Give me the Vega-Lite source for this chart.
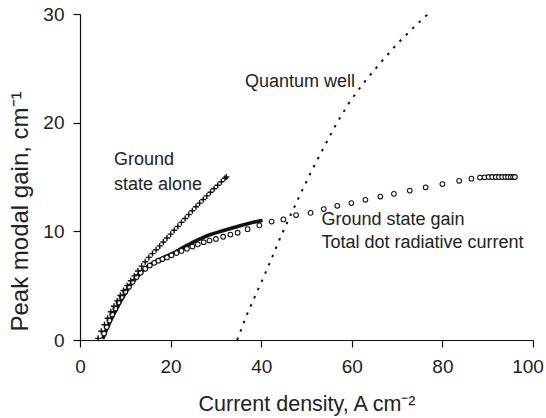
{
  "$schema": "https://vega.github.io/schema/vega-lite/v6.json",
  "width": 453,
  "height": 326,
  "autosize": {"type": "none"},
  "padding": {"left": 80, "top": 14, "right": 13, "bottom": 78},
  "background": "white",
  "config": {
    "view": {"stroke": null},
    "font": "Liberation Sans",
    "axis": {
      "grid": false,
      "labelFlush": false,
      "labelOverlap": false,
      "domainColor": "#111",
      "tickColor": "#111",
      "domainWidth": 1.2,
      "tickWidth": 1.2,
      "tickSize": 7,
      "labelFont": "Liberation Sans",
      "labelFontSize": 19,
      "labelColor": "#222",
      "titleFont": "Liberation Sans",
      "titleFontSize": 21.5,
      "titleFontWeight": "normal",
      "titleColor": "#222"
    }
  },
  "datasets": {
    "qw": [
      {"j": 34.7, "g": 0}, {"j": 36.6, "g": 2.1}, {"j": 38.6, "g": 4.0}, {"j": 40.6, "g": 5.85},
      {"j": 42.5, "g": 7.7}, {"j": 44.4, "g": 9.6}, {"j": 46.5, "g": 11.5}, {"j": 48.5, "g": 13.3},
      {"j": 50.7, "g": 15.2}, {"j": 52.9, "g": 17.0}, {"j": 56.6, "g": 19.9}, {"j": 59.5, "g": 21.9},
      {"j": 62.5, "g": 23.6}, {"j": 66.5, "g": 25.6}, {"j": 69.9, "g": 27.2}, {"j": 73.5, "g": 28.7},
      {"j": 76.8, "g": 30.0}
    ],
    "total": [
      {"j": 5.0, "g": 0.1}, {"j": 6, "g": 1.1}, {"j": 7, "g": 2.0}, {"j": 8, "g": 2.8}, {"j": 9, "g": 3.6},
      {"j": 10, "g": 4.3}, {"j": 11, "g": 4.95}, {"j": 12, "g": 5.5}, {"j": 13, "g": 6.0}, {"j": 14, "g": 6.45},
      {"j": 15, "g": 6.8}, {"j": 16, "g": 7.05}, {"j": 17, "g": 7.3}, {"j": 18, "g": 7.5}, {"j": 19, "g": 7.7},
      {"j": 20.4, "g": 7.95}, {"j": 22.5, "g": 8.45}, {"j": 24.5, "g": 8.9}, {"j": 26.5, "g": 9.3},
      {"j": 28.5, "g": 9.66}, {"j": 31.5, "g": 10.05}, {"j": 34.4, "g": 10.4}, {"j": 37.0, "g": 10.7},
      {"j": 39.6, "g": 10.95}, {"j": 40.3, "g": 11.0}
    ],
    "circles": [
      {"j": 5.3, "g": 0.6}, {"j": 5.9, "g": 1.2}, {"j": 6.5, "g": 1.8}, {"j": 7.1, "g": 2.35}, {"j": 7.8, "g": 2.9},
      {"j": 8.5, "g": 3.45}, {"j": 9.2, "g": 3.95}, {"j": 10.0, "g": 4.45}, {"j": 10.8, "g": 4.9}, {"j": 11.6, "g": 5.35},
      {"j": 12.5, "g": 5.8}, {"j": 13.4, "g": 6.2}, {"j": 14.4, "g": 6.55}, {"j": 15.4, "g": 6.85}, {"j": 16.4, "g": 7.1},
      {"j": 17.3, "g": 7.3}, {"j": 18.2, "g": 7.45}, {"j": 19.2, "g": 7.6}, {"j": 20.2, "g": 7.8}, {"j": 21.3, "g": 8.0},
      {"j": 22.4, "g": 8.2}, {"j": 23.6, "g": 8.4}, {"j": 24.8, "g": 8.6}, {"j": 26.0, "g": 8.8}, {"j": 27.3, "g": 9.0},
      {"j": 28.6, "g": 9.15}, {"j": 30.0, "g": 9.3}, {"j": 31.6, "g": 9.5}, {"j": 33.2, "g": 9.7}, {"j": 34.8, "g": 9.87},
      {"j": 37.0, "g": 10.2}, {"j": 39.6, "g": 10.55}, {"j": 42.3, "g": 10.9}, {"j": 44.9, "g": 11.1}, {"j": 47.7, "g": 11.5},
      {"j": 50.9, "g": 11.7}, {"j": 53.8, "g": 12.05}, {"j": 56.8, "g": 12.35}, {"j": 59.9, "g": 12.6}, {"j": 63.0, "g": 12.9},
      {"j": 66.3, "g": 13.2}, {"j": 69.3, "g": 13.45}, {"j": 72.8, "g": 13.75}, {"j": 76.3, "g": 14.05}, {"j": 80.0, "g": 14.35},
      {"j": 83.7, "g": 14.65}, {"j": 86.4, "g": 14.85}, {"j": 88.3, "g": 14.95}, {"j": 89.3, "g": 14.97}, {"j": 90.2, "g": 15.0},
      {"j": 91.0, "g": 15.0}, {"j": 91.8, "g": 15.0}, {"j": 92.5, "g": 15.0}, {"j": 93.2, "g": 15.0}, {"j": 93.9, "g": 15.0},
      {"j": 94.5, "g": 15.0}, {"j": 95.1, "g": 15.0}, {"j": 95.6, "g": 15.0}, {"j": 96.0, "g": 15.0}
    ],
    "crosses": [
      {"j": 4.0, "g": 0.15}, {"j": 4.7, "g": 0.8}, {"j": 5.4, "g": 1.4}, {"j": 6.1, "g": 2.0}, {"j": 6.8, "g": 2.6},
      {"j": 7.5, "g": 3.1}, {"j": 8.2, "g": 3.6}, {"j": 8.9, "g": 4.1}, {"j": 9.6, "g": 4.55}, {"j": 10.4, "g": 5.0},
      {"j": 11.2, "g": 5.45}, {"j": 12.0, "g": 5.9}, {"j": 12.8, "g": 6.35}, {"j": 13.6, "g": 6.8}, {"j": 14.4, "g": 7.2},
      {"j": 15.2, "g": 7.6}, {"j": 16.0, "g": 7.95}, {"j": 16.8, "g": 8.3}, {"j": 17.6, "g": 8.66}, {"j": 18.4, "g": 9.02},
      {"j": 19.2, "g": 9.38}, {"j": 20.0, "g": 9.74}, {"j": 20.8, "g": 10.1}, {"j": 21.6, "g": 10.46}, {"j": 22.4, "g": 10.82},
      {"j": 23.2, "g": 11.18}, {"j": 24.0, "g": 11.54}, {"j": 24.8, "g": 11.9}, {"j": 25.6, "g": 12.26}, {"j": 26.4, "g": 12.6},
      {"j": 27.2, "g": 12.93}, {"j": 28.0, "g": 13.26}, {"j": 28.8, "g": 13.59}, {"j": 29.6, "g": 13.92}, {"j": 30.4, "g": 14.24},
      {"j": 31.2, "g": 14.56}, {"j": 32.0, "g": 14.88}, {"j": 32.3, "g": 15.0}
    ],
    "labels": [
      {"j": 36.4, "g": 23.3, "text": "Quantum well"},
      {"j": 7.5, "g": 16.1, "text": "Ground"},
      {"j": 7.5, "g": 13.8, "text": "state alone"},
      {"j": 53.3, "g": 10.58, "text": "Ground state gain"},
      {"j": 53.3, "g": 8.44, "text": "Total dot radiative current"}
    ]
  },
  "encoding": {
    "x": {
      "field": "j", "type": "quantitative",
      "scale": {"domain": [0, 100], "nice": false},
      "axis": {
        "values": [0, 20, 40, 60, 80, 100],
        "labelPadding": 10,
        "labelOffset": {"condition": {"test": "datum.value === 100", "value": -5.5}, "value": 0},
        "title": "Current density, A cm⁻²",
        "titleBaseline": "alphabetic",
        "titleY": 70
      }
    },
    "y": {
      "field": "g", "type": "quantitative",
      "scale": {"domain": [0, 30], "nice": false},
      "axis": {
        "values": [0, 10, 20, 30],
        "labelPadding": 9,
        "title": "Peak modal gain, cm⁻¹",
        "titleFontSize": 24,
        "titleAngle": 270,
        "titleBaseline": "alphabetic",
        "titleX": -53,
        "titleY": 197
      }
    }
  },
  "layer": [
    {
      "data": {"name": "qw"},
      "mark": {"type": "line", "color": "#111", "strokeWidth": 2, "strokeDash": [2.5, 6.5], "clip": true}
    },
    {
      "data": {"name": "total"},
      "mark": {"type": "line", "color": "#111", "strokeWidth": 3.6, "interpolate": "monotone"}
    },
    {
      "data": {"name": "circles"},
      "mark": {"type": "point", "shape": "circle", "filled": true, "fill": "white", "stroke": "#111", "strokeWidth": 1.1, "size": 22, "opacity": 1}
    },
    {
      "data": {"name": "crosses"},
      "mark": {"type": "point", "shape": "M-1,0H1M0,-1V1", "filled": false, "stroke": "#111", "strokeWidth": 1.4, "size": 36, "opacity": 1}
    },
    {
      "data": {"name": "labels"},
      "mark": {"type": "text", "align": "left", "baseline": "alphabetic", "font": "Liberation Sans", "fontSize": 18, "color": "#222"},
      "encoding": {"text": {"field": "text"}}
    }
  ]
}
